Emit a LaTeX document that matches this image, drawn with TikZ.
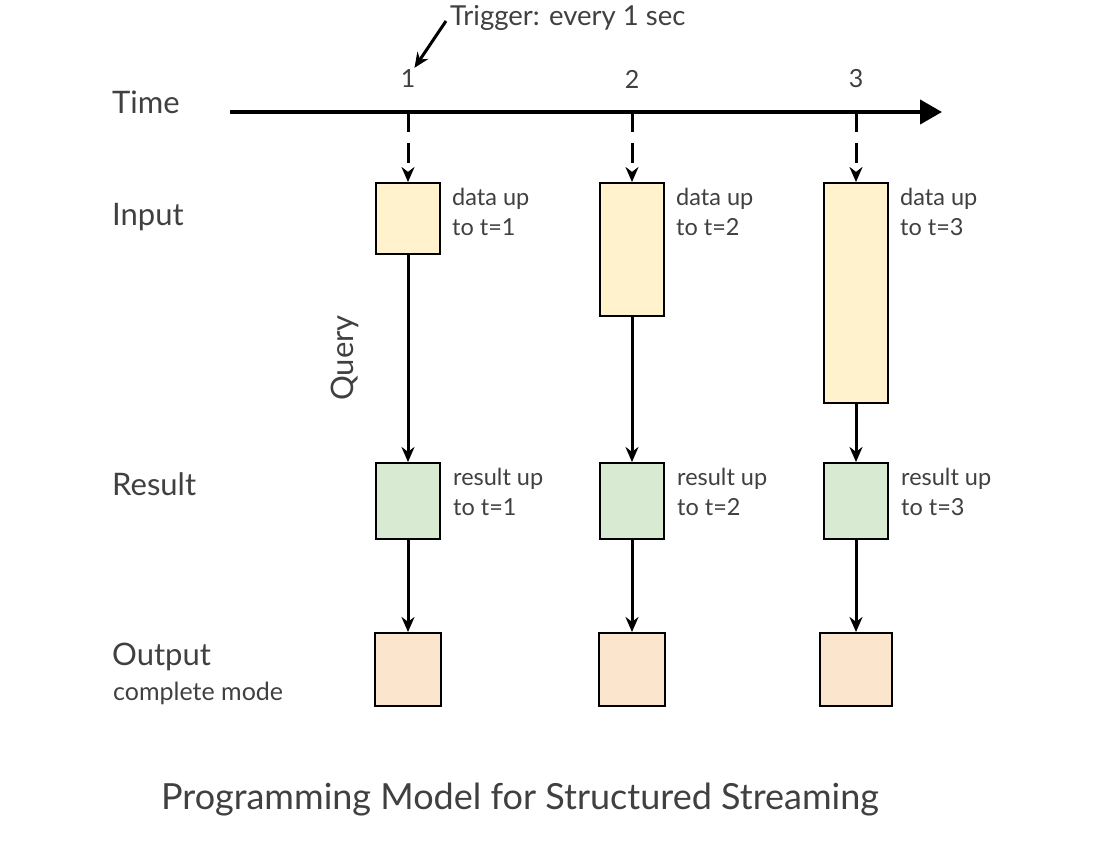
\documentclass[tikz,border=0pt]{standalone}
\usepackage{fontspec}
\setmainfont{Lato}
\usetikzlibrary{arrows.meta,positioning}
\definecolor{inc}{HTML}{FFF2CC}
\definecolor{resc}{HTML}{D9EAD3}
\definecolor{outc}{HTML}{FCE5CD}
\definecolor{txtc}{HTML}{404040}
\tikzset{
  >={Stealth[length=15pt,width=13pt]},
  box/.style={draw=black,line width=2pt,minimum width=64pt,inner sep=0pt,anchor=north},
  inbox/.style={box,fill=inc},
  resbox/.style={box,fill=resc,minimum height=76pt},
  outbox/.style={box,fill=outc,minimum height=73pt},
  row/.style={font=\fontsize{31}{34}\selectfont,text=txtc,anchor=west,inner sep=0pt},
  lbl/.style={font=\fontsize{23.5}{30}\selectfont,text=txtc,anchor=north west,align=left,inner sep=0pt},
  tick/.style={font=\fontsize{25}{28}\selectfont,text=txtc,inner sep=2pt},
  flow/.style={->,line width=3pt},
  trig/.style={flow,dash pattern=on 20pt off 11pt},
}

\begin{document}
\begin{tikzpicture}[x=1pt,y=-1pt]
  \useasboundingbox (0,0) rectangle (1120,857);
  % time axis
  \coordinate (t0) at (230,112);
  \coordinate (t1) at (942,112);
  \draw[line width=4.2pt,-{Triangle[length=22pt,width=24pt]}] (t0) -- (t1);
  % row names
  \node[row] (time) at (112,102) {Time};
  \node[row] (input) at (112,217) {Input};
  \node[row] (result) at (112,484) {Result};
  \node[row] (output) at (112,657) {Output};
  \node[row,font=\fontsize{25}{28}\selectfont] (mode) at (113,693) {complete mode};
  \node[row,rotate=90,anchor=center] (query) at (345,358) {Query};
  % one column per trigger
  \foreach \k/\x/\h/\w in {1/408/71/66,2/632/133/66,3/856/220/72} {
    \coordinate (a\k) at (\x,112);
    \node[tick] (n\k) at (\x,79) {\k};
    \node[inbox,minimum height=\h pt] (in\k) at (\x,182) {};
    \node[resbox] (res\k) at (\x,462) {};
    \node[outbox,minimum width=\w pt] (out\k) at (\x,632) {};
    \draw[trig] (a\k) -- (in\k.north);
    \draw[flow] (in\k) -- (res\k);
    \draw[flow] (res\k) -- (out\k);
    \node[lbl] (d\k) at ([xshift=11pt,yshift=-6pt]in\k.north east) {data up\\to t=\k};
    \node[lbl] (r\k) at ([xshift=12pt,yshift=-6pt]res\k.north east) {result up\\to t=\k};
  }
  % trigger note
  \node[lbl,anchor=west,font=\fontsize{27.5}{30}\selectfont] (trig) at (450,18) {Trigger: every 1 sec};
  \draw[flow] ([xshift=-4pt,yshift=-3pt]trig.west) -- ([xshift=-3pt]n1.north east);
  % caption
  \node[font=\fontsize{36}{40}\selectfont,text=txtc] (title) at (520,800) {Programming Model for Structured Streaming};
\end{tikzpicture}
\end{document}
